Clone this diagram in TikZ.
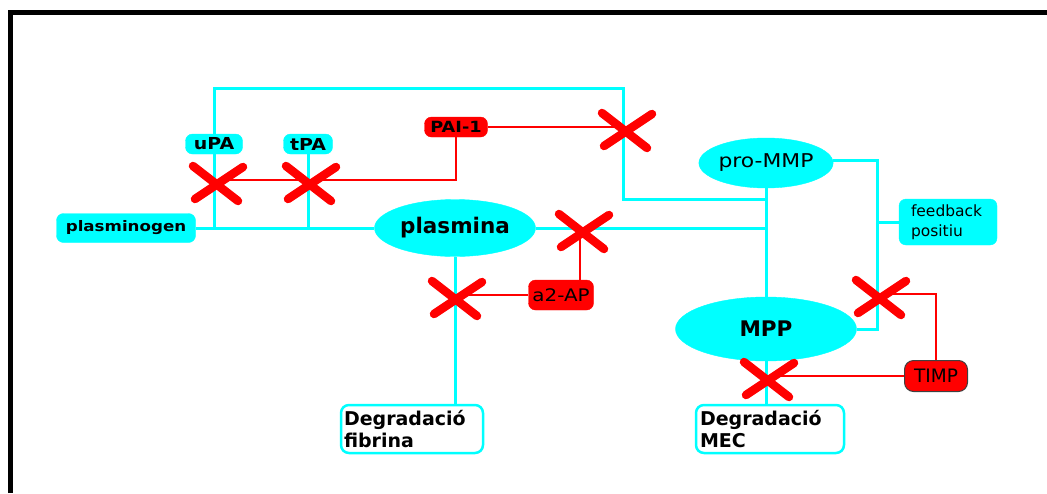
\documentclass[tikz,border=0pt]{standalone}
\usepackage{fontspec}
\setmainfont{DejaVu Sans}
\newfontfamily\wideft{DejaVu Sans}[FakeStretch=1.15]
\usetikzlibrary{shapes.geometric}
\definecolor{cy}{RGB}{0,255,255}
\definecolor{rd}{RGB}{255,0,0}
\begin{document}
\begin{tikzpicture}[x=1pt,y=-1pt,
  cbox/.style={draw=cy, fill=cy, rounded corners=7pt, inner sep=0pt},
  rbox/.style={draw=rd, fill=rd, rounded corners=7pt, inner sep=0pt},
  ell/.style={ellipse, draw=cy, fill=cy, inner sep=0pt},
  wbox/.style={draw=cy, line width=2.5pt, fill=white, rounded corners=8pt, inner ysep=0pt, align=left, font=\bfseries\fontsize{19}{22}\selectfont},
  cl/.style={draw=cy, line width=3pt},
  rl/.style={draw=rd, line width=2.5pt},
  pics/xcross/.style={code={
    \draw[rd, line width=8.5pt, line cap=round] (-21,-14) -- (24,21);
    \draw[rd, line width=8.5pt, line cap=round] (-19,19) -- (29,-13);}}
]
\useasboundingbox (0,0) rectangle (1047,493);
% frame
\draw[line width=5pt] (10.5,493) -- (10.5,12.5) -- (1047,12.5);

% nodes
\node[cbox, minimum width=57pt, minimum height=20pt, font=\wideft\bfseries\fontsize{16.5}{19}\selectfont] (upa) at (214,144) {uPA};
\node[cbox, minimum width=49pt, minimum height=20pt, font=\wideft\bfseries\fontsize{16.5}{19}\selectfont] (tpa) at (308,144) {tPA};
\node[cbox, minimum width=139pt, minimum height=29pt, font=\wideft\bfseries\fontsize{14.5}{18}\selectfont] (plg) at (126,228) {plasminogen};
\node[rbox, minimum width=63pt, minimum height=20pt, font=\wideft\bfseries\fontsize{15.4}{18}\selectfont] (pai) at (456,127) {PAI-1};
\node[ell, minimum width=161pt, minimum height=57pt, font=\bfseries\fontsize{21.5}{25}\selectfont] (pls) at (455,228) {plasmina};
\node[rbox, minimum width=65pt, minimum height=30pt, font=\wideft\fontsize{17.3}{20}\selectfont] (a2ap) at (561,295) {a2-AP};
\node[wbox, minimum width=142pt, minimum height=48pt, text width=136pt, inner xsep=3pt] (fib) at (412,429) {Degradació\\fibrina};
\node[ell, minimum width=127pt, minimum height=50pt, font=\wideft\fontsize{19}{22}\selectfont] (pmmp) at (766,163) {pro-MMP};
\node[cbox, minimum width=98pt, minimum height=46pt, text width=74pt, inner xsep=12pt, align=left, font=\fontsize{15.5}{20}\selectfont] (fbk) at (948,222) {feedback\\positiu};
\node[ell, minimum width=181pt, minimum height=64pt, font=\bfseries\fontsize{21.5}{25}\selectfont] (mpp) at (766,329) {MPP};
\node[rbox, draw=black!75, line width=1pt, minimum width=63pt, minimum height=31pt, rounded corners=9pt, font=\fontsize{18.5}{22}\selectfont] (timp) at (936,376) {TIMP};
\node[wbox, minimum width=148pt, minimum height=48pt, text width=140pt, inner xsep=4pt] (mec) at (770,429) {Degradació\\MEC};

% cross positions
\coordinate (x1) at (214,180);
\coordinate (x2) at (307,180);
\coordinate (x3) at (623,127);
\coordinate (x4) at (580,228);
\coordinate (x5) at (453,295);
\coordinate (x6) at (877,294);
\coordinate (x7) at (765,376);
\coordinate (tr) at (623,88);
\coordinate (j1) at (623,199);
\coordinate (fa) at (877,160);

% cyan connectors
\draw[cl] (plg.east) -- (pls.west);
\draw[cl] (upa.south) -- (upa.south |- plg.east);
\draw[cl] (tpa.south) -- (tpa.south |- plg.east);
\draw[cl] (upa.north) |- (tr) -- (j1) -- (j1 -| pmmp.south);
\draw[cl] (pls.east) -- (pls.east -| pmmp.south);
\draw[cl] (pmmp.south) -- (mpp.north);
\draw[cl] (pmmp.east |- fa) -- (fa) |- (mpp.east);
\draw[cl] (fa |- fbk.west) -- (fbk.west);
\draw[cl] (pls.south) -- (pls.south |- fib.north);
\draw[cl] (mpp.south) -- (mpp.south |- mec.north);

% red connectors
\draw[rl] (x1) -- (x1 -| pai.south) -- (pai.south);
\draw[rl] (pai.east) -- (x3);
\draw[rl] (x4) -- (x4 |- a2ap.north);
\draw[rl] (a2ap.west) -- (x5);
\draw[rl] (x6) -| (timp.north);
\draw[rl] (timp.west) -- (x7);

% crosses
\foreach \c in {x1,x2,x3,x4,x5,x6,x7} \pic at (\c) {xcross};
\end{tikzpicture}
\end{document}
